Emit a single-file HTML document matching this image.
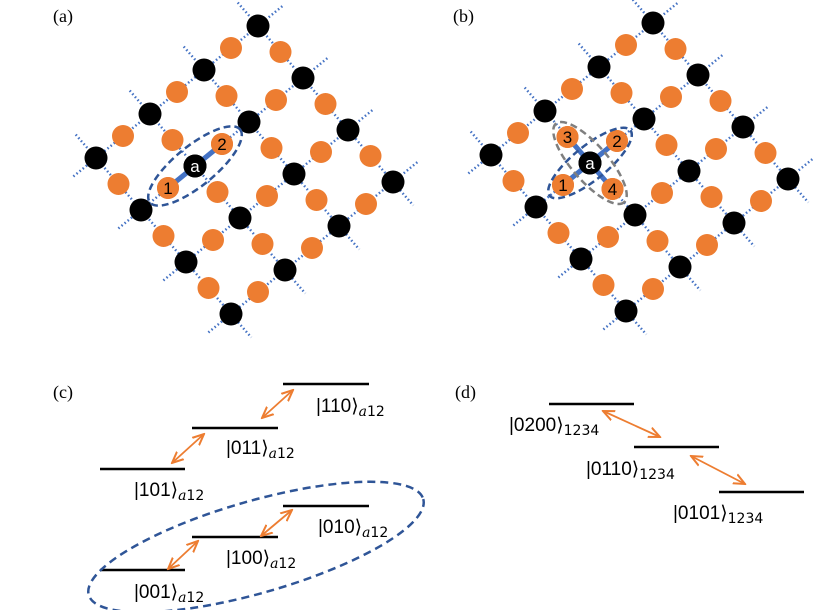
<!DOCTYPE html>
<html><head><meta charset="utf-8"><style>
body{margin:0;background:#fff}
svg{display:block}
.lab{font-family:"Liberation Serif",serif;font-size:18px}
.ket{font-family:"Liberation Sans","DejaVu Sans",sans-serif;font-size:19px;fill:#000}
.sub{font-family:"DejaVu Serif","Liberation Serif",serif;font-style:italic;font-size:14px}
.subn{font-family:"DejaVu Sans","Liberation Sans",sans-serif;font-size:14px}
.num{font-family:"Liberation Sans",sans-serif;font-size:17px;text-anchor:middle}
</style></head><body>
<svg width="814" height="610" viewBox="0 0 814 610" xmlns="http://www.w3.org/2000/svg">
<defs>
<marker id="ah" viewBox="0 0 10 10" refX="9" refY="5" markerWidth="7" markerHeight="7" orient="auto-start-reverse"><path d="M0,1 L9,5 L0,9" fill="none" stroke="#ed7d31" stroke-width="1.6"/></marker>
<g id="lat">
 <g stroke="#4472c4" stroke-width="2.5" stroke-dasharray="1.5 2.5" fill="none">
  <line x1="237.75" y1="2.6" x2="413.25" y2="205.4"/>
  <line x1="183.75" y1="46.6" x2="359.25" y2="249.4"/>
  <line x1="129.75" y1="90.6" x2="305.25" y2="293.4"/>
  <line x1="75.75" y1="134.6" x2="251.25" y2="337.4"/>
  <line x1="282.3" y1="6.2" x2="71.7" y2="177.8"/>
  <line x1="327.3" y1="58.2" x2="116.7" y2="229.8"/>
  <line x1="372.3" y1="110.2" x2="161.7" y2="281.8"/>
  <line x1="417.3" y1="162.2" x2="206.7" y2="333.8"/>
 </g>
 <g fill="#ed7d31">
  <circle cx="280.5" cy="52" r="11"/><circle cx="325.5" cy="104" r="11"/><circle cx="370.5" cy="156" r="11"/>
  <circle cx="226.5" cy="96" r="11"/><circle cx="271.5" cy="148" r="11"/><circle cx="316.5" cy="200" r="11"/>
  <circle cx="172.5" cy="140" r="11"/><circle cx="217.5" cy="192" r="11"/><circle cx="262.5" cy="244" r="11"/>
  <circle cx="118.5" cy="184" r="11"/><circle cx="163.5" cy="236" r="11"/><circle cx="208.5" cy="288" r="11"/>
  <circle cx="231" cy="48" r="11"/><circle cx="177" cy="92" r="11"/><circle cx="123" cy="136" r="11"/>
  <circle cx="276" cy="100" r="11"/><circle cx="222" cy="144" r="11"/><circle cx="168" cy="188" r="11"/>
  <circle cx="321" cy="152" r="11"/><circle cx="267" cy="196" r="11"/><circle cx="213" cy="240" r="11"/>
  <circle cx="366" cy="204" r="11"/><circle cx="312" cy="248" r="11"/><circle cx="258" cy="292" r="11"/>
 </g>
 <g fill="#000">
  <circle cx="258" cy="26" r="11.5"/><circle cx="303" cy="78" r="11.5"/><circle cx="348" cy="130" r="11.5"/><circle cx="393" cy="182" r="11.5"/>
  <circle cx="204" cy="70" r="11.5"/><circle cx="249" cy="122" r="11.5"/><circle cx="294" cy="174" r="11.5"/><circle cx="339" cy="226" r="11.5"/>
  <circle cx="150" cy="114" r="11.5"/><circle cx="195" cy="166" r="11.5"/><circle cx="240" cy="218" r="11.5"/><circle cx="285" cy="270" r="11.5"/>
  <circle cx="96" cy="158" r="11.5"/><circle cx="141" cy="210" r="11.5"/><circle cx="186" cy="262" r="11.5"/><circle cx="231" cy="314" r="11.5"/>
 </g>
</g>
</defs>

<text class="lab" x="53" y="22">(a)</text>
<text class="lab" x="453" y="22">(b)</text>
<text class="lab" x="53" y="398">(c)</text>
<text class="lab" x="455" y="398">(d)</text>

<!-- (a) -->
<use href="#lat"/>
<line x1="168" y1="188" x2="222" y2="144" stroke="#4472c4" stroke-width="5"/>
<circle cx="168" cy="188" r="11" fill="#ed7d31"/><circle cx="222" cy="144" r="11" fill="#ed7d31"/><circle cx="195" cy="166" r="11.5" fill="#000"/>
<text class="num" x="168" y="194">1</text><text class="num" x="222" y="150">2</text><text class="num" x="195" y="172" fill="#fff">a</text>
<ellipse cx="195" cy="166" rx="58" ry="20" transform="rotate(-39 195 166)" fill="none" stroke="#2f5597" stroke-width="2.5" stroke-dasharray="7 4"/>

<!-- (b) -->
<g transform="translate(395,-3)">
<use href="#lat"/>
<line x1="168" y1="188" x2="222" y2="144" stroke="#4472c4" stroke-width="5"/>
<line x1="172.5" y1="140" x2="217.5" y2="192" stroke="#4472c4" stroke-width="5"/>
<circle cx="168" cy="188" r="11" fill="#ed7d31"/><circle cx="222" cy="144" r="11" fill="#ed7d31"/>
<circle cx="172.5" cy="140" r="11" fill="#ed7d31"/><circle cx="217.5" cy="192" r="11" fill="#ed7d31"/>
<circle cx="195" cy="166" r="11.5" fill="#000"/>
<text class="num" x="168" y="194">1</text><text class="num" x="222" y="150">2</text>
<text class="num" x="172.5" y="146">3</text><text class="num" x="217.5" y="198">4</text>
<text class="num" x="195" y="172" fill="#fff">a</text>
<ellipse cx="195" cy="166" rx="52" ry="17" transform="rotate(-39 195 166)" fill="none" stroke="#2f5597" stroke-width="2.5" stroke-dasharray="7 4"/>
<ellipse cx="195" cy="166" rx="52" ry="18" transform="rotate(49 195 166)" fill="none" stroke="#7f7f7f" stroke-width="2.5" stroke-dasharray="7 4"/>
</g>

<!-- (c) -->
<g stroke="#000" stroke-width="2.5">
<line x1="283" y1="384" x2="369" y2="384"/>
<line x1="192" y1="428" x2="278" y2="428"/>
<line x1="100" y1="469" x2="185" y2="469"/>
<line x1="283" y1="506" x2="369" y2="506"/>
<line x1="192" y1="537" x2="278" y2="537"/>
<line x1="100" y1="570" x2="185" y2="570"/>
</g>
<g stroke="#ed7d31" stroke-width="1.8" marker-start="url(#ah)" marker-end="url(#ah)">
<line x1="293" y1="390" x2="262" y2="418"/>
<line x1="204" y1="434" x2="172" y2="463"/>
<line x1="292" y1="510" x2="261" y2="536"/>
<line x1="198" y1="541" x2="168" y2="569"/>
</g>
<ellipse cx="256" cy="547" rx="174" ry="46" transform="rotate(-16 256 547)" fill="none" stroke="#2f5597" stroke-width="2.5" stroke-dasharray="8 5"/>
<text class="ket" x="316" y="412">|110⟩<tspan class="sub" dy="4">a</tspan><tspan class="subn">12</tspan></text>
<text class="ket" x="226" y="454">|011⟩<tspan class="sub" dy="4">a</tspan><tspan class="subn">12</tspan></text>
<text class="ket" x="134" y="496">|101⟩<tspan class="sub" dy="4">a</tspan><tspan class="subn">12</tspan></text>
<text class="ket" x="318" y="533">|010⟩<tspan class="sub" dy="4">a</tspan><tspan class="subn">12</tspan></text>
<text class="ket" x="226" y="564">|100⟩<tspan class="sub" dy="4">a</tspan><tspan class="subn">12</tspan></text>
<text class="ket" x="134" y="598">|001⟩<tspan class="sub" dy="4">a</tspan><tspan class="subn">12</tspan></text>

<!-- (d) -->
<g stroke="#000" stroke-width="2.5">
<line x1="549" y1="404" x2="634" y2="404"/>
<line x1="634" y1="447" x2="719" y2="447"/>
<line x1="719" y1="492" x2="804" y2="492"/>
</g>
<g stroke="#ed7d31" stroke-width="1.8" marker-start="url(#ah)" marker-end="url(#ah)">
<line x1="603" y1="411" x2="660" y2="437"/>
<line x1="691" y1="456" x2="745" y2="484"/>
</g>
<text class="ket" x="509" y="431">|0200⟩<tspan class="subn" dy="4">1234</tspan></text>
<text class="ket" x="586" y="475">|0110⟩<tspan class="subn" dy="4">1234</tspan></text>
<text class="ket" x="673" y="519">|0101⟩<tspan class="subn" dy="4">1234</tspan></text>
</svg>
</body></html>
